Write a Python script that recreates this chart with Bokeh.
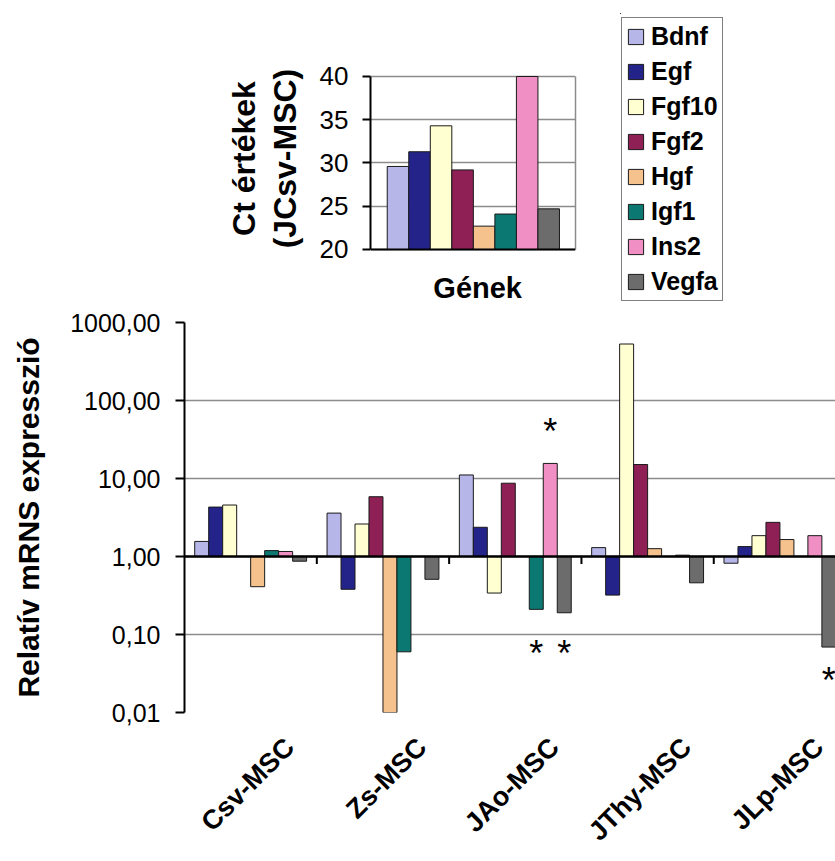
import math
from bokeh.plotting import figure
from bokeh.models import (Range1d, FixedTicker, LinearAxis, Span, ColumnDataSource, Label,
                          Legend, LegendItem)
from bokeh.layouts import row
from bokeh.embed import file_html
from bokeh.resources import INLINE
from bokeh.core.properties import value

# ---------------- data ----------------
genes = ["Bdnf", "Egf", "Fgf10", "Fgf2", "Hgf", "Igf1", "Ins2", "Vegfa"]
gene_colors = ["#B6B6E8", "#23238A", "#FFFFD2", "#8E2056", "#F5C28E", "#0C7872", "#F08FC4", "#6C6C6C"]
ct_values = [29.6, 31.3, 34.3, 29.2, 22.7, 24.1, 40.0, 24.7]
ct_ticks = [20, 25, 30, 35, 40]

groups = ["Csv-MSC", "Zs-MSC", "JAo-MSC", "JThy-MSC", "JLp-MSC"]
bdnf = [1.56, 3.6, 11.1, 1.30, 0.82]
egf = [4.3, 0.38, 2.37, 0.32, 1.34]
fgf10 = [4.57, 2.61, 0.34, 530.0, 1.85]
fgf2 = [1.0, 5.84, 8.7, 15.1, 2.74]
hgf = [0.41, 0.01, 1.0, 1.26, 1.65]
igf1 = [1.19, 0.06, 0.21, 1.0, 1.0]
ins2 = [1.16, 1.0, 15.6, 1.04, 1.85]
vegfa = [0.87, 0.51, 0.19, 0.46, 0.069]
expr = [bdnf, egf, fgf10, fgf2, hgf, igf1, ins2, vegfa]

y_ticks = [0.01, 0.1, 1.0, 10.0, 100.0, 1000.0]
y_tick_labels = ["0,01", "0,10", "1,00", "10,00", "100,00", "1000,00"]

star_groups = [2, 2, 2, 4]
star_genes = ["Ins2", "Igf1", "Vegfa", "Vegfa"]
star_y = [46.0, 0.066, 0.066, 0.030]

FONT = "Liberation Sans"
GRID = "#8c8c8c"

# ---------------- inset (Ct values) ----------------
top = figure(width=600, height=308, x_range=Range1d(-1.277, 8.244), y_range=Range1d(13.757, 47.283),
             x_axis_location=None, output_backend="svg", toolbar_location=None,
             min_border_left=370, min_border_right=25, min_border_top=13, min_border_bottom=5)
top.outline_line_color = None
top.xgrid.visible = False
top.ygrid.ticker = FixedTicker(ticks=ct_ticks)
top.ygrid.grid_line_color = GRID
top.ygrid.grid_line_width = 1.5

src = ColumnDataSource(dict(x=list(range(len(genes))), top=ct_values, color=gene_colors))
top.vbar(x="x", top="top", bottom=ct_ticks[0], width=1.0, fill_color="color",
         line_color="#1a1a1a", line_width=1, source=src)
top.add_layout(Span(location=ct_ticks[0], dimension="width", line_color="black", line_width=2))

ya = top.yaxis[0]
ya.ticker = FixedTicker(ticks=ct_ticks)
ya.bounds = (ct_ticks[0], ct_ticks[-1])
ya.axis_line_width = 2
ya.axis_line_color = "black"
ya.major_tick_out = 8
ya.major_tick_in = 0
ya.major_tick_line_width = 2
ya.minor_tick_line_color = None
ya.major_label_text_font = FONT
ya.major_label_text_font_size = "26px"
ya.major_label_text_color = "black"
ya.major_label_standoff = 14
ya.axis_label = "(JCsv-MSC)"
ya.axis_label_text_font = FONT
ya.axis_label_text_font_style = "bold"
ya.axis_label_text_font_size = "32px"
ya.axis_label_text_color = "black"
ya.axis_label_standoff = 14

ya2 = LinearAxis(ticker=FixedTicker(ticks=[]), bounds=(ct_ticks[0], ct_ticks[-1]), axis_line_color=None,
                 major_tick_out=0, major_tick_in=0, minor_tick_line_color=None, major_label_standoff=0,
                 axis_label="Ct értékek", axis_label_text_font=FONT, axis_label_text_font_style="bold",
                 axis_label_text_font_size="32px", axis_label_text_color="black", axis_label_standoff=2)
top.add_layout(ya2, "left")

yr = LinearAxis(ticker=FixedTicker(ticks=[]), bounds=(ct_ticks[0], ct_ticks[-1]), axis_line_color=GRID,
                axis_line_width=1.5, major_tick_out=0, major_tick_in=0, minor_tick_line_color=None,
                major_label_standoff=0, axis_label_standoff=0)
top.add_layout(yr, "right")

top.add_layout(Label(x=3.7, y=15.6, text="Gének", text_align="center", text_baseline="middle",
                     text_font=FONT, text_font_style="bold", text_font_size="29px", text_color="black"))

# ---------------- legend panel ----------------
leg = figure(width=235, height=308, x_range=Range1d(100, 101), y_range=Range1d(0, 1),
             x_axis_location=None, y_axis_location=None, output_backend="svg", toolbar_location=None,
             min_border_left=20, min_border_right=0, min_border_top=13, min_border_bottom=5)
leg.outline_line_color = None
leg.xgrid.visible = False
leg.ygrid.visible = False
leg_r = leg.vbar(x="x", top="top", bottom=ct_ticks[0], width=1.0, fill_color="color",
                 line_color="#1a1a1a", line_width=1, source=src)
items = [LegendItem(label=g, renderers=[leg_r], index=i) for i, g in enumerate(genes)]
lg = Legend(items=items, location=(1, 2), margin=0, padding=4, spacing=6, label_height=28,
            glyph_width=19, glyph_height=19, label_standoff=6, label_text_font=FONT,
            label_text_font_style="bold", label_text_font_size="25px", label_text_color="black",
            border_line_color="black", border_line_width=1.5, background_fill_color="white",
            background_fill_alpha=1.0)
leg.add_layout(lg)

# ---------------- main chart ----------------
label_shift = 0.295
cat_ticks = [round(i + 0.5 + label_shift, 3) for i in range(len(groups))]

main = figure(width=835, height=553, x_range=Range1d(0, 4.92), y_range=Range1d(0.01, 1000),
              y_axis_type="log", output_backend="svg", toolbar_location=None,
              min_border_left=184, min_border_right=0, min_border_top=14, min_border_bottom=149)
main.outline_line_color = None
main.xgrid.visible = False
main.ygrid.ticker = FixedTicker(ticks=y_ticks)
main.ygrid.grid_line_color = GRID
main.ygrid.grid_line_width = 1.5

bw = 0.1057
n = len(genes)
for j, (g, vals, col) in enumerate(zip(genes, expr, gene_colors)):
    xs = [i + 0.5 + (j - (n - 1) / 2) * bw for i in range(len(groups))]
    main.vbar(x=xs, top=vals, bottom=1.0, width=bw, fill_color=col, line_color="#1a1a1a", line_width=1)

main.add_layout(Span(location=1.0, dimension="width", line_color="black", line_width=2.5))
bounds = list(range(1, len(groups)))
main.segment(x0=bounds, y0=[1.0] * len(bounds), x1=bounds, y1=[0.8] * len(bounds),
             line_color="black", line_width=2)

sx = [g + 0.5 + (genes.index(ge) - (n - 1) / 2) * bw for g, ge in zip(star_groups, star_genes)]
main.text(x=sx, y=star_y, text=["*"] * len(sx), text_font=value(FONT), text_font_size="36px",
          text_align="center", text_baseline="alphabetic", y_offset=5, text_color="black")

yb = main.yaxis[0]
yb.ticker = FixedTicker(ticks=y_ticks)
yb.major_label_overrides = dict(zip(y_ticks, y_tick_labels))
yb.axis_line_width = 2
yb.axis_line_color = "black"
yb.major_tick_out = 9
yb.major_tick_in = 0
yb.major_tick_line_width = 2
yb.minor_tick_line_color = None
yb.major_label_text_font = FONT
yb.major_label_text_font_size = "25px"
yb.major_label_text_color = "black"
yb.major_label_standoff = 15
yb.axis_label = "Relatív mRNS expresszió"
yb.axis_label_text_font = FONT
yb.axis_label_text_font_style = "bold"
yb.axis_label_text_font_size = "30px"
yb.axis_label_text_color = "black"
yb.axis_label_standoff = 22

xb = main.xaxis[0]
xb.ticker = FixedTicker(ticks=cat_ticks)
xb.major_label_overrides = dict(zip(cat_ticks, groups))
xb.axis_line_color = None
xb.major_tick_line_color = None
xb.minor_tick_line_color = None
xb.major_tick_out = 0
xb.major_tick_in = 0
xb.major_label_orientation = math.pi / 4
xb.major_label_standoff = 30
xb.major_label_text_font = FONT
xb.major_label_text_font_style = "bold"
xb.major_label_text_font_size = "27px"
xb.major_label_text_color = "black"

open("out.html", "w").write(file_html([row(top, leg), main], INLINE))
